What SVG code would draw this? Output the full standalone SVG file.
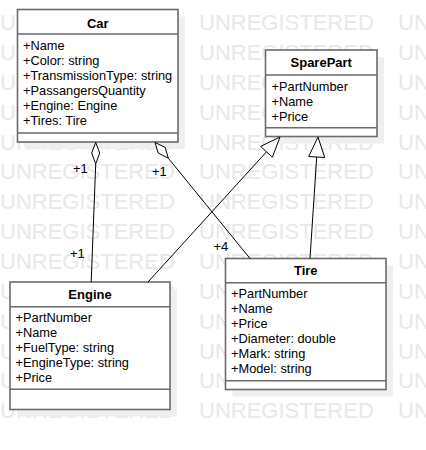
<svg xmlns="http://www.w3.org/2000/svg" width="426" height="450" viewBox="0 0 426 450">
<style>
.wm{font-family:"Liberation Sans",Arial,sans-serif;font-size:22px;fill:#e8e8e8}
.box{fill:#fff;stroke:#6b6b6b;stroke-width:1.6}
.sh{fill:#efefef}
.sep{stroke:#6b6b6b;stroke-width:1.6}
.t{font-family:"Liberation Sans",Arial,sans-serif;font-size:13px;font-weight:bold;fill:#000;text-anchor:middle}
.a{font-family:"Liberation Sans",Arial,sans-serif;font-size:12.8px;fill:#000}
.m{font-family:"Liberation Sans",Arial,sans-serif;font-size:13px;fill:#000}
.ln{stroke:#000;stroke-width:1;fill:none}
.hd{stroke:#000;stroke-width:1;fill:#fff}
</style>
<defs>
<text id="wmrow" class="wm"><tspan x="0">UNREGISTERED</tspan><tspan x="199">UNREGISTERED</tspan><tspan x="398">UNREGISTERED</tspan></text>
</defs>
<rect width="426" height="450" fill="#fff"/>
<g id="watermark">
<use href="#wmrow" y="30"/>
<use href="#wmrow" y="59.9"/>
<use href="#wmrow" y="89.7"/>
<use href="#wmrow" y="119.6"/>
<use href="#wmrow" y="149.5"/>
<use href="#wmrow" y="179.4"/>
<use href="#wmrow" y="209.2"/>
<use href="#wmrow" y="239.1"/>
<use href="#wmrow" y="269"/>
<use href="#wmrow" y="298.8"/>
<use href="#wmrow" y="328.7"/>
<use href="#wmrow" y="358.6"/>
<use href="#wmrow" y="388.4"/>
<use href="#wmrow" y="418.3"/>
</g>
<g id="shadows">
<rect class="sh" x="24.5" y="16.5" width="160.5" height="132.5"/>
<rect class="sh" x="272.5" y="57" width="111.5" height="86.5"/>
<rect class="sh" x="17" y="289" width="160" height="127.5"/>
<rect class="sh" x="232.5" y="265.5" width="160.5" height="131"/>
</g>
<g id="Car">
<rect class="box" x="17.5" y="9.5" width="160.5" height="132.5"/>
<line class="sep" x1="17.5" y1="34" x2="178" y2="34"/>
<line class="sep" x1="17.5" y1="133" x2="178" y2="133"/>
<text class="t" x="97.75" y="27.5">Car</text>
<text class="a" x="23" y="49.5">+Name</text>
<text class="a" x="23" y="64.5">+Color: string</text>
<text class="a" x="23" y="79.5">+TransmissionType: string</text>
<text class="a" x="23" y="94.5">+PassangersQuantity</text>
<text class="a" x="23" y="109.5">+Engine: Engine</text>
<text class="a" x="23" y="124.5">+Tires: Tire</text>
</g>
<g id="SparePart">
<rect class="box" x="265.5" y="50" width="111.5" height="86.5"/>
<line class="sep" x1="265.5" y1="75" x2="377" y2="75"/>
<line class="sep" x1="265.5" y1="127.7" x2="377" y2="127.7"/>
<text class="t" x="321.25" y="66.5">SparePart</text>
<text class="a" x="271.5" y="90.5">+PartNumber</text>
<text class="a" x="271.5" y="105.5">+Name</text>
<text class="a" x="271.5" y="120.5">+Price</text>
</g>
<g id="Engine">
<rect class="box" x="10" y="282" width="160" height="127.5"/>
<line class="sep" x1="10" y1="306.7" x2="170" y2="306.7"/>
<line class="sep" x1="10" y1="389.3" x2="170" y2="389.3"/>
<text class="t" x="90" y="299.3">Engine</text>
<text class="a" x="15.5" y="322.2">+PartNumber</text>
<text class="a" x="15.5" y="337.2">+Name</text>
<text class="a" x="15.5" y="352.2">+FuelType: string</text>
<text class="a" x="15.5" y="367.2">+EngineType: string</text>
<text class="a" x="15.5" y="382.2">+Price</text>
</g>
<g id="Tire">
<rect class="box" x="225.5" y="258.5" width="160.5" height="131"/>
<line class="sep" x1="225.5" y1="282.7" x2="386" y2="282.7"/>
<line class="sep" x1="225.5" y1="380.7" x2="386" y2="380.7"/>
<text class="t" x="305.75" y="275.3">Tire</text>
<text class="a" x="231" y="298.2">+PartNumber</text>
<text class="a" x="231" y="313.2">+Name</text>
<text class="a" x="231" y="328.2">+Price</text>
<text class="a" x="231" y="343.2">+Diameter: double</text>
<text class="a" x="231" y="358.2">+Mark: string</text>
<text class="a" x="231" y="373.2">+Model: string</text>
</g>
<g id="connectors">
<line class="ln" x1="95.7" y1="164" x2="91.2" y2="282"/>
<polygon class="hd" points="95.7,142.5 99.7,153 95.7,164 91.7,153"/>
<line class="ln" x1="168.3" y1="158.2" x2="250" y2="258.5"/>
<polygon class="hd" points="155,142.5 165.1,147.3 168.3,158.2 158.2,153"/>
<line class="ln" x1="148" y1="282" x2="266.5" y2="151.8"/>
<polygon class="hd" points="280,137 260.6,146.4 272.4,157.2"/>
<line class="ln" x1="310" y1="258.5" x2="316.7" y2="157"/>
<polygon class="hd" points="318,137 308.7,156.5 324.7,157.5"/>
<text class="m" x="73" y="172.5">+1</text>
<text class="m" x="70" y="257.7">+1</text>
<text class="m" x="152" y="176">+1</text>
<text class="m" x="213.5" y="250.7">+4</text>
</g>
</svg>
